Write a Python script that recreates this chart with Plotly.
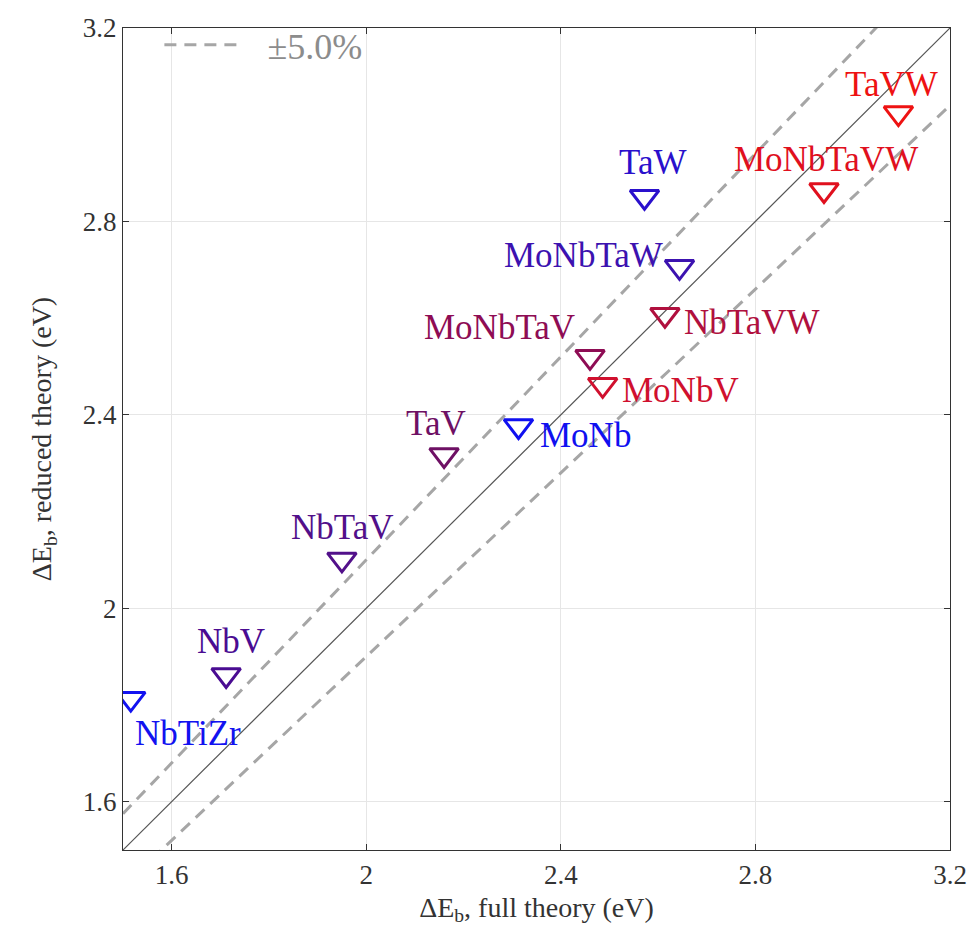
import plotly.graph_objects as go

# Binding-energy change: full theory vs reduced theory (eV)
alloys = ["NbTiZr", "NbV", "NbTaV", "TaV", "MoNb", "MoNbTaV", "MoNbV",
          "NbTaVW", "MoNbTaW", "TaW", "MoNbTaVW", "TaVW"]
full_theory = [1.516, 1.712, 1.950, 2.160, 2.313, 2.460, 2.486,
               2.614, 2.644, 2.572, 2.941, 3.094]
reduced_theory = [1.813, 1.862, 2.101, 2.317, 2.377, 2.520, 2.462,
                  2.607, 2.706, 2.851, 2.865, 3.024]
colors = ["#1212f0", "#4a0c92", "#52108a", "#6e1064", "#1010f0", "#8e0c54",
          "#d0102e", "#b0103e", "#3c12b0", "#2a10cc", "#e0101e", "#ee1212"]
# label offsets (px) and anchors relative to each marker
label_dx = [2, 5, 1, -8, 19, -13, 17, 17, -15, 8, 2, -7]
label_dy = [35, -33, -32, -31, 10, -29, 6, 8, -11, -34, -30, -29]
label_xanchor = ["left", "center", "center", "center", "left", "right",
                 "left", "left", "right", "center", "center", "center"]

axis_range = [1.5, 3.2]
tick_vals = [1.6, 2.0, 2.4, 2.8, 3.2]
tick_text = ["1.6", "2", "2.4", "2.8", "3.2"]
tolerance = 0.05

serif = "Liberation Serif"

fig = go.Figure()

# +/- 5% band
lo, hi = axis_range
fig.add_trace(go.Scatter(
    x=[lo, hi, None, lo, hi],
    y=[lo * (1 + tolerance), hi * (1 + tolerance), None,
       lo * (1 - tolerance), hi * (1 - tolerance)],
    mode="lines", name="\u00a0\u00a0\u00b15.0%",
    line=dict(color="#a6a6a6", width=3, dash="12px,8px"),
    showlegend=True, hoverinfo="skip"))

# parity line
fig.add_trace(go.Scatter(
    x=axis_range, y=axis_range, mode="lines",
    line=dict(color="#555555", width=1.2),
    showlegend=False, hoverinfo="skip"))

# alloy markers
fig.add_trace(go.Scatter(
    x=full_theory, y=reduced_theory, mode="markers",
    marker=dict(symbol="triangle-down-open", size=25, color=colors,
                line=dict(color=colors, width=3)),
    showlegend=False, text=alloys))

for name, xv, yv, c, dx, dy, xa in zip(alloys, full_theory, reduced_theory,
                                        colors, label_dx, label_dy, label_xanchor):
    fig.add_annotation(x=xv, y=yv, text=name, showarrow=False,
                       xanchor=xa, yanchor="middle", xshift=dx, yshift=-dy,
                       font=dict(family=serif, size=35, color=c))

axis_common = dict(
    range=axis_range, tickvals=tick_vals, ticktext=tick_text,
    showgrid=True, gridcolor="#e6e6e6", gridwidth=1,
    showline=True, linecolor="#333333", linewidth=1.2, mirror="ticks",
    ticks="inside", ticklen=6, tickcolor="#333333", tickwidth=1,
    zeroline=False, tickfont=dict(family=serif, size=27, color="#333333"),
)

fig.update_xaxes(**axis_common,
                 title=dict(text="\u0394E<sub>b</sub>, full theory (eV)",
                            font=dict(family=serif, size=28, color="#333333"),
                            standoff=8))
fig.update_yaxes(**axis_common,
                 title=dict(text="\u0394E<sub>b</sub>, reduced theory (eV)",
                            font=dict(family=serif, size=28, color="#333333"),
                            standoff=22))

fig.update_layout(
    width=979, height=939,
    margin=dict(l=123, r=24, t=28, b=89),
    plot_bgcolor="white", paper_bgcolor="white",
    legend=dict(x=0.044, y=1.016, xanchor="left", yanchor="top",
                bgcolor="rgba(0,0,0,0)", itemwidth=80,
                font=dict(family=serif, size=36, color="#8c8c8c")),
)

fig.write_html("out.html")
